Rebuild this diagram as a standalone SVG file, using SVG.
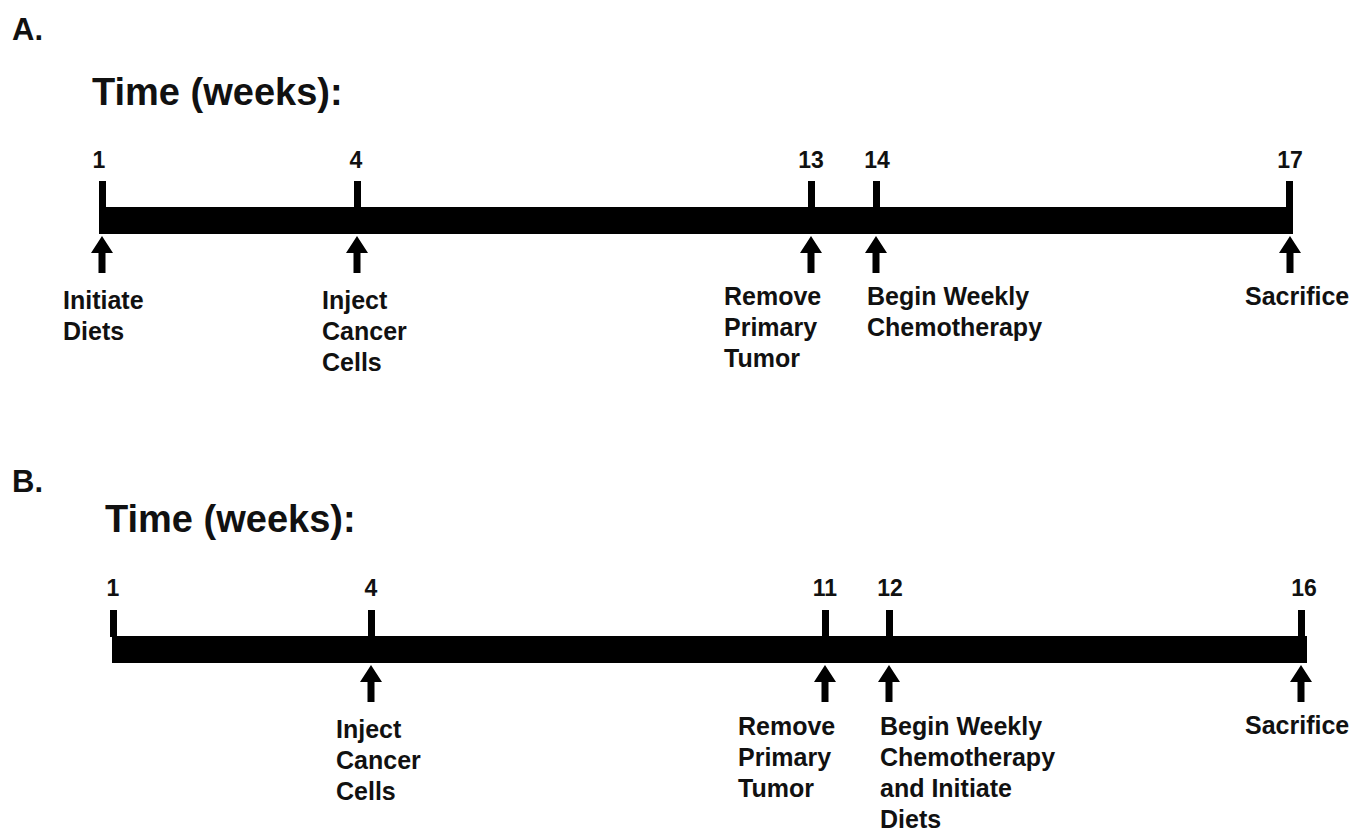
<svg xmlns="http://www.w3.org/2000/svg" xmlns:xlink="http://www.w3.org/1999/xlink" width="1367" height="831" viewBox="0 0 1367 831">
<style>
text{font-family:"Liberation Sans",Arial,sans-serif;font-weight:bold;fill:#111}
.panel{font-size:31px}
.title{font-size:38px}
.num{font-size:23px;text-anchor:middle}
.lbl{font-size:25px}
.bar,.tick,.arrow{fill:#000}
</style>
<defs>
<path id="arr" class="arrow" d="M0,0 L11,17 L3.5,17 L3.5,37 L-3.5,37 L-3.5,17 L-11,17 Z"/>
</defs>
<rect width="1367" height="831" fill="#fff"/>

<g id="panelA">
<text class="panel" x="12" y="40">A.</text>
<text class="title" x="92" y="105">Time (weeks):</text>
</g>
<g id="connectorsA">
<rect class="bar" x="99" y="207" width="1194" height="27"/>
</g>
<g id="A-w1">
<text class="num" x="99" y="168">1</text>
<rect class="tick" x="99" y="181" width="7" height="27"/>
<use xlink:href="#arr" x="102" y="236"/>
<text class="lbl" x="63" y="309">Initiate</text>
<text class="lbl" x="63" y="340">Diets</text>
</g>
<g id="A-w4">
<text class="num" x="356" y="168">4</text>
<rect class="tick" x="354" y="181" width="7" height="27"/>
<use xlink:href="#arr" x="357" y="236"/>
<text class="lbl" x="322" y="309">Inject</text>
<text class="lbl" x="322" y="340">Cancer</text>
<text class="lbl" x="322" y="371">Cells</text>
</g>
<g id="A-w13">
<text class="num" x="811" y="168">13</text>
<rect class="tick" x="808" y="181" width="7" height="27"/>
<use xlink:href="#arr" x="811" y="236"/>
<text class="lbl" x="724" y="305">Remove</text>
<text class="lbl" x="724" y="336">Primary</text>
<text class="lbl" x="724" y="367">Tumor</text>
</g>
<g id="A-w14">
<text class="num" x="877" y="168">14</text>
<rect class="tick" x="873" y="181" width="7" height="27"/>
<use xlink:href="#arr" x="876" y="236"/>
<text class="lbl" x="867" y="305">Begin Weekly</text>
<text class="lbl" x="867" y="336">Chemotherapy</text>
</g>
<g id="A-w17">
<text class="num" x="1290" y="168">17</text>
<rect class="tick" x="1286" y="181" width="7" height="27"/>
<use xlink:href="#arr" x="1290" y="236"/>
<text class="lbl" x="1245" y="305">Sacrifice</text>
</g>

<g id="panelB">
<text class="panel" x="12" y="492">B.</text>
<text class="title" x="105" y="532">Time (weeks):</text>
</g>
<g id="connectorsB">
<rect class="bar" x="112" y="636" width="1195" height="27"/>
</g>
<g id="B-w1">
<text class="num" x="113" y="596">1</text>
<rect class="tick" x="110" y="610" width="7" height="27"/>
</g>
<g id="B-w4">
<text class="num" x="371" y="596">4</text>
<rect class="tick" x="368" y="610" width="7" height="27"/>
<use xlink:href="#arr" x="371" y="665"/>
<text class="lbl" x="336" y="738">Inject</text>
<text class="lbl" x="336" y="769">Cancer</text>
<text class="lbl" x="336" y="800">Cells</text>
</g>
<g id="B-w11">
<text class="num" x="825" y="596">11</text>
<rect class="tick" x="822" y="610" width="7" height="27"/>
<use xlink:href="#arr" x="825" y="665"/>
<text class="lbl" x="738" y="735">Remove</text>
<text class="lbl" x="738" y="766">Primary</text>
<text class="lbl" x="738" y="797">Tumor</text>
</g>
<g id="B-w12">
<text class="num" x="890" y="596">12</text>
<rect class="tick" x="886" y="610" width="7" height="27"/>
<use xlink:href="#arr" x="889" y="665"/>
<text class="lbl" x="880" y="735">Begin Weekly</text>
<text class="lbl" x="880" y="766">Chemotherapy</text>
<text class="lbl" x="880" y="797">and Initiate</text>
<text class="lbl" x="880" y="828">Diets</text>
</g>
<g id="B-w16">
<text class="num" x="1304" y="596">16</text>
<rect class="tick" x="1298" y="610" width="7" height="27"/>
<use xlink:href="#arr" x="1301" y="665"/>
<text class="lbl" x="1245" y="734">Sacrifice</text>
</g>
</svg>
